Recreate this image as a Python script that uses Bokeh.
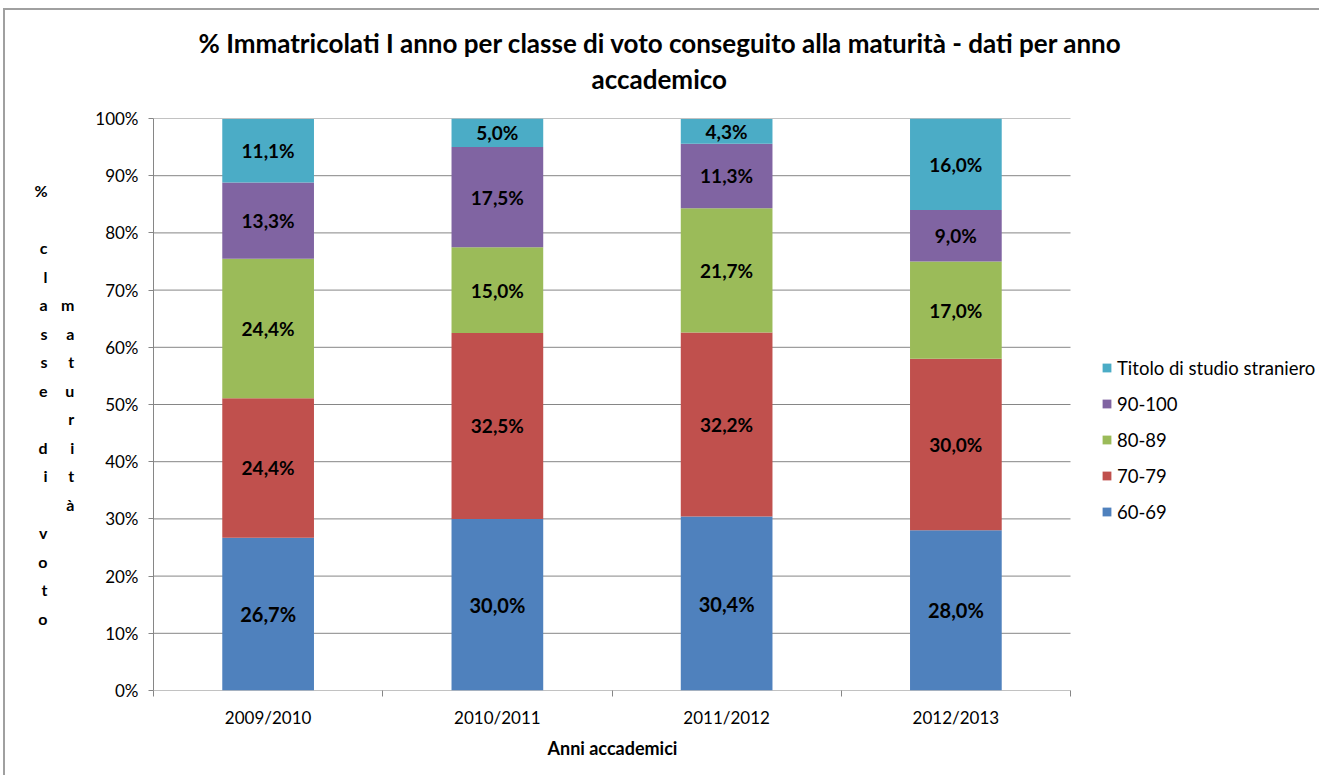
from bokeh.plotting import figure
from bokeh.models import (ColumnDataSource, FixedTicker, PrintfTickFormatter, Title,
                          Legend, LegendItem, Range1d, LinearAxis)
from bokeh.core.properties import value
from bokeh.embed import file_html
from bokeh.resources import INLINE

# ---------------- data ----------------
years = ["2009/2010", "2010/2011", "2011/2012", "2012/2013"]
series = ["60-69", "70-79", "80-89", "90-100", "Titolo di studio straniero"]
v_60_69 = [26.7, 30.0, 30.4, 28.0]
v_70_79 = [24.4, 32.5, 32.2, 30.0]
v_80_89 = [24.4, 15.0, 21.7, 17.0]
v_90_100 = [13.3, 17.5, 11.3, 9.0]
v_straniero = [11.1, 5.0, 4.3, 16.0]
colors = ["#4F81BD", "#C0504D", "#9BBB59", "#8064A2", "#4BACC6"]
y_ticks = [0, 10, 20, 30, 40, 50, 60, 70, 80, 90, 100]
title_line1 = "% Immatricolati I anno per classe di voto conseguito alla maturità - dati  per anno"
title_line2 = "accademico"
ylabel_col1 = ["%", "", "c", "l", "a", "s", "s", "e", "", "d", "i", "", "v", "o", "t", "o"]
ylabel_col2 = ["m", "a", "t", "u", "r", "i", "t", "à"]
xlabel = "Anni accademici"

values = [v_60_69, v_70_79, v_80_89, v_90_100, v_straniero]
keys = ["s0", "s1", "s2", "s3", "s4"]

FONT = "Lato"
GRAY = "#868686"

# layout (pixels)
W, H = 1316, 767               # canvas, starts at page x=5, y=10
CANVAS_X0 = 5
FRAME_LEFT = 153               # page x of plot area left
AXIS_RIGHT = 1070              # page x where the category axis ends
frame_px = CANVAS_X0 + W - FRAME_LEFT
axis_px = AXIS_RIGHT - FRAME_LEFT

n = len(years)
x_end = n * frame_px / axis_px  # plot area continues to the right, for the legend

x = [i + 0.5 for i in range(n)]
data = {"x": x}
for k, v in zip(keys, values):
    data[k] = v
src = ColumnDataSource(data)

p = figure(width=W, height=H, output_backend="svg", toolbar_location=None,
           x_range=Range1d(0, x_end), y_range=Range1d(0, 100),
           min_border_left=FRAME_LEFT - CANVAS_X0, min_border_right=0,
           min_border_top=108, min_border_bottom=87)
p.styles = {"margin-left": "3px", "margin-top": "8px",
            "border-top": "2px solid #A0A0A0", "border-left": "2px solid #A0A0A0"}
p.title.visible = False
p.outline_line_color = None
p.background_fill_color = "white"
p.border_fill_color = "white"
p.xgrid.visible = False
p.ygrid.visible = False

# horizontal gridlines limited to the category axis length
p.segment(x0=[0] * len(y_ticks), x1=[n] * len(y_ticks), y0=y_ticks, y1=y_ticks,
          line_color=GRAY, line_width=1)

renderers = p.vbar_stack(keys, x="x", width=0.4, color=colors, source=src, line_color=None)

# data labels
bottom = [0.0] * n
for si, v in enumerate(values):
    mids = [b + val / 2 for b, val in zip(bottom, v)]
    texts = [("%.1f" % val).replace(".", ",") + "%" for val in v]
    lsrc = ColumnDataSource(dict(x=x, y=mids, t=texts))
    p.text(x="x", y="y", text="t", source=lsrc, text_align="center", text_baseline="middle",
           text_font=value(FONT), text_font_style="bold",
           text_font_size="20px" if si == 0 else "19px", text_color="black")
    bottom = [b + val for b, val in zip(bottom, v)]

# x axis
xa = p.xaxis[0]
xa.ticker = FixedTicker(ticks=x, minor_ticks=list(range(n + 1)))
xa.major_label_overrides = {xx: yy for xx, yy in zip(x, years)}
xa.major_tick_out = 0
xa.major_tick_in = 0
xa.minor_tick_out = 6
xa.minor_tick_in = 0
xa.minor_tick_line_color = GRAY
xa.axis_line_color = None
xa.major_label_text_font = FONT
xa.major_label_text_font_size = "17px"
xa.major_label_text_color = "black"
xa.major_label_standoff = 10

# x axis title, centred under the category axis
xtitle = Title(text=xlabel, align="left", offset=547 - FRAME_LEFT,
               text_font=FONT, text_font_style="bold", text_font_size="18px",
               text_color="black", standoff=8)
p.add_layout(xtitle, "below")

# y axis (its label = second column of the stacked title)
ya = p.yaxis[0]
ya.ticker = FixedTicker(ticks=y_ticks)
ya.formatter = PrintfTickFormatter(format="%d%%")
ya.major_tick_out = 5
ya.major_tick_in = 0
ya.minor_tick_out = 0
ya.minor_tick_in = 0
ya.major_tick_line_color = GRAY
ya.axis_line_color = GRAY
ya.major_label_text_font = FONT
ya.major_label_text_font_size = "17px"
ya.major_label_text_color = "black"
ya.major_label_standoff = 10
ya.axis_label = "\n".join(ylabel_col2)
ya.axis_label_orientation = "horizontal"
ya.axis_label_text_font = FONT
ya.axis_label_text_font_style = "bold"
ya.axis_label_text_font_size = "16px"
ya.axis_label_text_line_height = 1.5
ya.axis_label_text_color = "black"
ya.axis_label_standoff = 18

# extra axis carrying the first column of the stacked title
ya2 = LinearAxis(ticker=FixedTicker(ticks=[]), axis_line_color=None,
                 major_tick_out=0, major_tick_in=0, minor_tick_out=0, minor_tick_in=0,
                 axis_label="\n".join(ylabel_col1), axis_label_orientation="horizontal",
                 axis_label_text_font=FONT, axis_label_text_font_style="bold",
                 axis_label_text_font_size="16px", axis_label_text_line_height=1.5,
                 axis_label_text_color="black", axis_label_standoff=10)
p.add_layout(ya2, "left")

# blank spacer between plot area and title
spacer = Title(text=" ", text_font=FONT, text_font_size="16px", standoff=2)
p.add_layout(spacer, "above")

# two-line title, centred on the whole chart
t2 = Title(text=title_line2, align="left", offset=591 - FRAME_LEFT,
           text_font=FONT, text_font_style="bold", text_font_size="26px",
           text_color="black", standoff=2)
t1 = Title(text=title_line1, align="left", offset=198 - FRAME_LEFT,
           text_font=FONT, text_font_style="bold", text_font_size="26px",
           text_color="black", standoff=2)
p.add_layout(t2, "above")
p.add_layout(t1, "above")

# legend (reversed order), inside the extended plot area, right of the bars
items = [LegendItem(label=s, renderers=[r]) for s, r in zip(series, renderers)][::-1]
legend = Legend(items=items, location=(1101 - FRAME_LEFT, 167),
                glyph_width=11, glyph_height=11, label_height=23, spacing=13,
                padding=0, margin=0, border_line_color=None, background_fill_alpha=0,
                label_text_font=FONT, label_text_font_size="18.5px", label_standoff=5,
                label_text_color="black")
p.add_layout(legend)

open("out.html", "w").write(file_html(p, INLINE))
